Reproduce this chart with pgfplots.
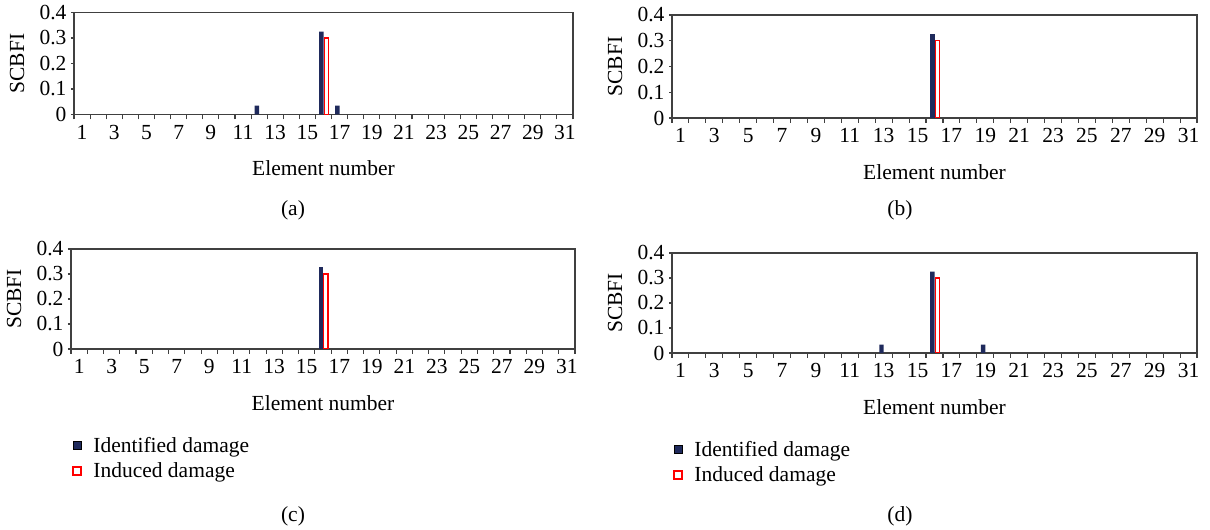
\documentclass[border=0pt]{standalone}
\usepackage{fontspec}
\setmainfont{Liberation Serif}
\usepackage{pgfplots}
\usepackage{pgfplotstable}
\pgfplotsset{compat=1.18}
\usetikzlibrary{calc}
\definecolor{navy}{HTML}{1F2A5C}
\definecolor{axgray}{HTML}{404040}
\newcommand{\fs}{\fontsize{21.5}{25}\selectfont}

% panel (a)
\pgfplotstableread[row sep=\\]{
x id in \\
1 0 0 \\ 2 0 0 \\ 3 0 0 \\ 4 0 0 \\ 5 0 0 \\ 6 0 0 \\ 7 0 0 \\ 8 0 0 \\
9 0 0 \\ 10 0 0 \\ 11 0 0 \\ 12 0.035 0 \\ 13 0 0 \\ 14 0 0 \\ 15 0 0 \\
16 0.325 0.3 \\ 17 0.035 0 \\ 18 0 0 \\ 19 0 0 \\ 20 0 0 \\ 21 0 0 \\
22 0 0 \\ 23 0 0 \\ 24 0 0 \\ 25 0 0 \\ 26 0 0 \\ 27 0 0 \\ 28 0 0 \\
29 0 0 \\ 30 0 0 \\ 31 0 0 \\
}\dataA
% panel (b)
\pgfplotstableread[row sep=\\]{
x id in \\
1 0 0 \\ 2 0 0 \\ 3 0 0 \\ 4 0 0 \\ 5 0 0 \\ 6 0 0 \\ 7 0 0 \\ 8 0 0 \\
9 0 0 \\ 10 0 0 \\ 11 0 0 \\ 12 0 0 \\ 13 0 0 \\ 14 0 0 \\ 15 0 0 \\
16 0.325 0.3 \\ 17 0 0 \\ 18 0 0 \\ 19 0 0 \\ 20 0 0 \\ 21 0 0 \\
22 0 0 \\ 23 0 0 \\ 24 0 0 \\ 25 0 0 \\ 26 0 0 \\ 27 0 0 \\ 28 0 0 \\
29 0 0 \\ 30 0 0 \\ 31 0 0 \\
}\dataB
% panel (c)
\pgfplotstableread[row sep=\\]{
x id in \\
1 0 0 \\ 2 0 0 \\ 3 0 0 \\ 4 0 0 \\ 5 0 0 \\ 6 0 0 \\ 7 0 0 \\ 8 0 0 \\
9 0 0 \\ 10 0 0 \\ 11 0 0 \\ 12 0 0 \\ 13 0 0 \\ 14 0 0 \\ 15 0 0 \\
16 0.327 0.3 \\ 17 0 0 \\ 18 0 0 \\ 19 0 0 \\ 20 0 0 \\ 21 0 0 \\
22 0 0 \\ 23 0 0 \\ 24 0 0 \\ 25 0 0 \\ 26 0 0 \\ 27 0 0 \\ 28 0 0 \\
29 0 0 \\ 30 0 0 \\ 31 0 0 \\
}\dataC
% panel (d)
\pgfplotstableread[row sep=\\]{
x id in \\
1 0 0 \\ 2 0 0 \\ 3 0 0 \\ 4 0 0 \\ 5 0 0 \\ 6 0 0 \\ 7 0 0 \\ 8 0 0 \\
9 0 0 \\ 10 0 0 \\ 11 0 0 \\ 12 0 0 \\ 13 0.033 0 \\ 14 0 0 \\ 15 0 0 \\
16 0.325 0.3 \\ 17 0 0 \\ 18 0 0 \\ 19 0.033 0 \\ 20 0 0 \\ 21 0 0 \\
22 0 0 \\ 23 0 0 \\ 24 0 0 \\ 25 0 0 \\ 26 0 0 \\ 27 0 0 \\ 28 0 0 \\
29 0 0 \\ 30 0 0 \\ 31 0 0 \\
}\dataD

\pgfplotsset{
  panel/.style={
    scale only axis, anchor=south west,
    xmin=0.5, xmax=31.5, ymin=0, ymax=0.4,
    ytick={0,0.1,0.2,0.3,0.4},
    xtick={1,3,...,31},
    minor xtick={0.5,1.5,...,31.5},
    major x tick style={draw=none},
    major tick length=3pt, minor tick length=5pt,
    tick align=outside,
    xtick pos=bottom, ytick pos=left,
    axis line style={axgray, line width=1.1pt},
    every tick/.style={axgray, line width=1.1pt},
    tick label style={font=\fs},
    /pgf/number format/assume math mode=true,
    xticklabel style={yshift=-4pt},
    yticklabel style={xshift=-1pt},
    ybar, unbounded coords=discard,
    xlabel={Element number}, ylabel={SCBFI},
    label style={font=\fs},
    xlabel style={at={($(rel axis cs:0.5,0)+(0,-54pt)$)}, anchor=center},
    ylabel style={at={($(rel axis cs:0,0.5)+(-57pt,0)$)}, anchor=center, rotate=0},
    legend image code/.code={%
      \draw[##1,/tikz/.cd] (0.5pt,-4pt) rectangle (8.5pt,4pt);
      \path[draw=none,fill=none] (0pt,0pt) -- (19pt,0pt);},
  },
  idstyle/.style={fill=navy, draw=none, bar width=4.4pt, bar shift=-2.2pt,
    y filter/.expression={y==0 ? nan : y}},
  instyle/.style={fill=white, draw=red, line width=1.3pt, bar width=4.2pt, bar shift=2.75pt,
    y filter/.expression={y==0 ? nan : y}},
  legstyle/.style={legend style={draw=none, fill=none, font=\fs,
    at={($(rel axis cs:0,0)+(-2pt,-84pt)$)}, anchor=north west,
    row sep=5pt, cells={anchor=west}}, legend cell align=left},
}

\begin{document}
\begin{tikzpicture}[font=\fs]
\path[use as bounding box] (0,0) rectangle (1210pt,530pt);

\begin{axis}[panel, at={(74pt,415.5pt)}, width=499pt, height=102pt]
\addplot[idstyle] table[x=x,y=id]{\dataA};
\addplot[instyle] table[x=x,y=in]{\dataA};
\end{axis}

\begin{axis}[panel, at={(672pt,412pt)}, width=525pt, height=103pt]
\addplot[idstyle] table[x=x,y=id]{\dataB};
\addplot[instyle] table[x=x,y=in]{\dataB};
\end{axis}

\begin{axis}[panel, legstyle, at={(71pt,181pt)}, width=504pt, height=100pt]
\addplot[idstyle] table[x=x,y=id]{\dataC};
\addplot[instyle] table[x=x,y=in]{\dataC};
\legend{Identified damage, Induced damage}
\end{axis}

\begin{axis}[panel, legstyle, at={(672pt,177pt)}, width=525pt, height=100pt]
\addplot[idstyle] table[x=x,y=id]{\dataD};
\addplot[instyle] table[x=x,y=in]{\dataD};
\legend{Identified damage, Induced damage}
\end{axis}

\node at (293pt,320pt) {(a)};
\node at (900pt,320pt) {(b)};
\node at (293pt,14pt) {(c)};
\node at (900pt,14pt) {(d)};
\end{tikzpicture}
\end{document}
